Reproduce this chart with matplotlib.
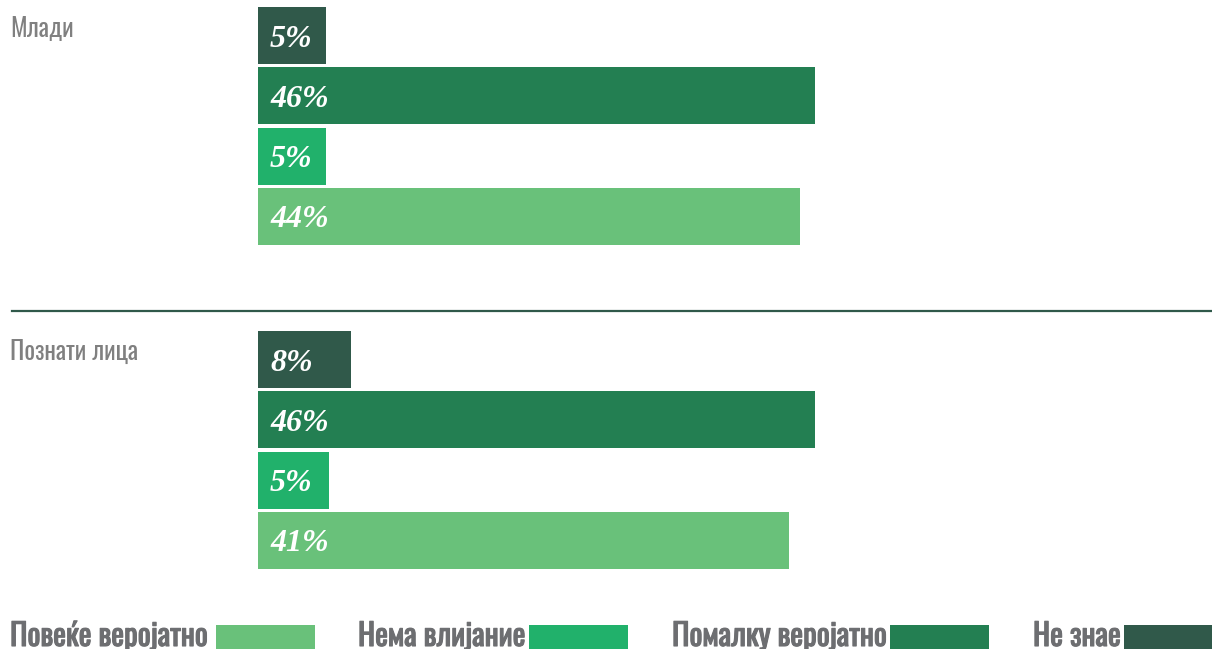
import matplotlib
matplotlib.use("Agg")
from matplotlib import pyplot as plt
from matplotlib.patches import Rectangle
from matplotlib import patheffects

# bar order top -> bottom
categories = ["Не знае", "Помалку веројатно", "Нема влијание", "Повеќе веројатно"]
colors = ["#30594a", "#237f52", "#21b16b", "#69c17a"]

groups = ["Млади", "Познати лица"]
# bar lengths (in %), and the printed labels
values_mladi = [5.6, 46.0, 5.6, 44.8]
values_poznati = [7.7, 46.0, 5.9, 43.9]
labels_mladi = ["5%", "46%", "5%", "44%"]
labels_poznati = ["8%", "46%", "5%", "41%"]

W, H = 1212, 649
fig = plt.figure(figsize=(W / 100, H / 100), dpi=100)
fig.patch.set_facecolor("white")

narrow = ["Oswald", "Roboto Condensed", "DejaVu Sans"]
px_per_unit = 12.1


def add_group(top, name, values, labels):
    left = 258
    height = 238
    ax = fig.add_axes([left / W, 1 - (top + height) / H, (W - left) / W, height / H])
    ax.barh(range(len(values)), values, height=0.95, color=colors, edgecolor="none")
    ax.set_xlim(0, (W - left) / px_per_unit)
    ax.set_ylim(len(values) - 0.525, -0.475)
    ax.axis("off")
    for i, lab in enumerate(labels):
        ax.text(1.0, i + 0.06, lab, color="white", fontsize=23, fontweight="bold",
                fontstyle="italic", family=["Liberation Serif", "DejaVu Serif"],
                va="center", ha="left")
    fig.text(10 / W, 1 - (top + 8) / H, name, color="#808080", fontsize=18,
             fontweight="light", family=narrow, va="top", ha="left")


add_group(7, groups[0], values_mladi, labels_mladi)
add_group(331, groups[1], values_poznati, labels_poznati)

# separator line
fig.add_artist(plt.Line2D([12 / W, 1.0], [1 - 311 / H, 1 - 311 / H], color="#30594a", lw=1.6))

# legend along the bottom
legend_order = ["Повеќе веројатно", "Нема влијание", "Помалку веројатно", "Не знае"]
legend_colors = ["#69c17a", "#21b16b", "#237f52", "#30594a"]
text_x = [10, 358, 672, 1033]
swatch_x = [216, 529, 890, 1124]
swatch_w = 99
for name, col, tx, sx in zip(legend_order, legend_colors, text_x, swatch_x):
    fig.text(tx / W, 1 - 646 / H, name, color="#6d6e71", fontsize=22, fontweight="bold",
             family=narrow, va="baseline", ha="left",
             path_effects=[patheffects.withStroke(linewidth=0.8, foreground="#6d6e71")])
    fig.add_artist(Rectangle((sx / W, 0), min(swatch_w, W - sx) / W, 24 / H,
                             transform=fig.transFigure, color=col, lw=0))

fig.savefig("out.png", dpi=100, facecolor="white")
